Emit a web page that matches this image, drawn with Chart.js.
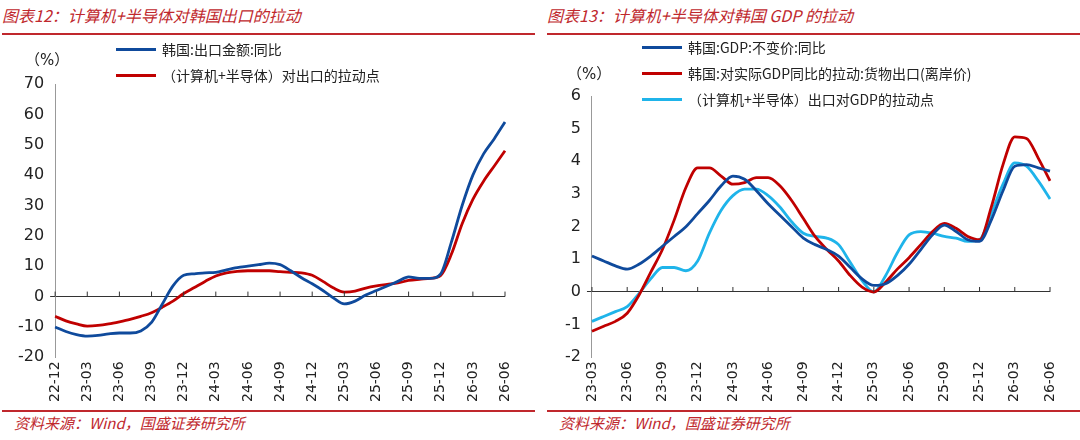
<!DOCTYPE html>
<html><head><meta charset="utf-8">
<script src="https://cdn.jsdelivr.net/npm/chart.js@4"></script>
<style>
body{margin:0;width:1080px;height:440px;background:#fff;font-family:"DejaVu Sans","Noto Sans CJK SC",sans-serif;position:relative;overflow:hidden}
.panel{position:absolute;top:0;width:535px;height:440px}
.title{position:absolute;left:2px;top:3px;color:#c0282d;font-style:italic;font-size:16px;font-family:"Noto Sans CJK SC",sans-serif}
.rule{position:absolute;left:2px;right:0;height:2px;background:#c0282d}
.src{position:absolute;left:14px;top:412px;color:#c0282d;font-style:italic;font-size:15px;font-family:"Noto Sans CJK SC",sans-serif}
.cw{position:absolute;left:0;top:36px;width:535px;height:374px}
.leg{position:absolute;font-size:14px;font-family:"Noto Sans CJK SC",sans-serif;color:#222}
.leg div{display:flex;align-items:center;height:26px}
.leg span{display:inline-block;width:40px;height:3px;margin-right:6px}
.unit{position:absolute;font-size:15px;color:#222}
</style></head><body>
<div class="panel" style="left:0">
  <div class="title">图表12：计算机+半导体对韩国出口的拉动</div>
  <div class="rule" style="top:33px"></div>
  <div class="cw"><canvas id="c1"></canvas></div>
  <div class="unit" style="left:25px;top:48px">（%）</div>
  <div class="leg" style="left:116px;top:36px">
    <div><span style="background:#0f4a9c"></span>韩国:出口金额:同比</div>
    <div><span style="background:#c00000"></span>（计算机+半导体）对出口的拉动点</div>
  </div>
  <div class="rule" style="top:410px"></div>
  <div class="src">资料来源：Wind，国盛证券研究所</div>
</div>
<div class="panel" style="left:545px">
  <div class="title">图表13：计算机+半导体对韩国 GDP 的拉动</div>
  <div class="rule" style="top:33px"></div>
  <div class="cw"><canvas id="c2"></canvas></div>
  <div class="unit" style="left:22px;top:62px">（%）</div>
  <div class="leg" style="left:97px;top:34px">
    <div><span style="background:#0f4a9c"></span>韩国:GDP:不变价:同比</div>
    <div><span style="background:#c00000"></span>韩国:对实际GDP同比的拉动:货物出口(离岸价)</div>
    <div><span style="background:#1fb4ea"></span>（计算机+半导体）出口对GDP的拉动点</div>
  </div>
  <div class="rule" style="top:410px"></div>
  <div class="src">资料来源：Wind，国盛证券研究所</div>
</div>
<script>
// ---- chart 12: monthly 22-12 .. 26-06
const months1 = ['22-12','23-01','23-02','23-03','23-04','23-05','23-06','23-07','23-08','23-09','23-10','23-11','23-12',
  '24-01','24-02','24-03','24-04','24-05','24-06','24-07','24-08','24-09','24-10','24-11','24-12',
  '25-01','25-02','25-03','25-04','25-05','25-06','25-07','25-08','25-09','25-10','25-11','25-12',
  '26-01','26-02','26-03','26-04','26-05','26-06'];
const exportYoy = [-10,-11.5,-12.5,-13,-12.8,-12.3,-12,-12,-11.3,-8.5,-2.5,3.5,7,
  7.5,7.8,8,8.8,9.5,10,10.5,11,10.5,8.5,6.2,4.2,
  2,-0.5,-2.4,-1.5,0.5,2,3.5,5,6.5,6,6,7.5,
  18,30,40,47,52,57.5];
const chipPull = [-6.5,-8,-9,-9.7,-9.5,-9,-8.3,-7.5,-6.5,-5.3,-3.5,-1.5,1,
  3,5,6.8,7.8,8.3,8.5,8.5,8.5,8.2,8,7.8,7,
  5,2.8,1.5,1.8,2.8,3.5,4,4.5,5.3,5.7,6,7,
  14,24,32,38,43,48];

// ---- chart 13: monthly 23-03 .. 26-06
const months2 = ['23-03','23-04','23-05','23-06','23-07','23-08','23-09','23-10','23-11','23-12',
  '24-01','24-02','24-03','24-04','24-05','24-06','24-07','24-08','24-09','24-10','24-11','24-12',
  '25-01','25-02','25-03','25-04','25-05','25-06','25-07','25-08','25-09','25-10','25-11','25-12',
  '26-01','26-02','26-03','26-04','26-05','26-06'];
const gdpYoy = [1.1,0.95,0.8,0.7,0.85,1.1,1.4,1.7,2.0,2.4,
  2.8,3.25,3.55,3.45,3.1,2.7,2.35,2.0,1.65,1.45,1.3,1.1,
  0.75,0.4,0.2,0.25,0.5,0.85,1.3,1.75,2.05,1.85,1.6,1.55,
  2.2,3.1,3.85,3.9,3.8,3.7];
const goodsPull = [-1.2,-1.05,-0.9,-0.65,-0.1,0.6,1.3,2.2,3.2,3.8,
  3.8,3.55,3.3,3.35,3.5,3.5,3.25,2.8,2.25,1.7,1.3,0.95,
  0.5,0.15,0,0.3,0.7,1.05,1.45,1.85,2.1,1.95,1.7,1.6,
  2.6,3.9,4.75,4.7,4.1,3.4];
const chipGdpPull = [-0.9,-0.75,-0.6,-0.45,-0.05,0.4,0.75,0.75,0.65,0.95,
  1.8,2.5,2.95,3.15,3.15,2.95,2.6,2.15,1.8,1.7,1.65,1.45,
  0.9,0.35,0,0.5,1.2,1.75,1.85,1.8,1.7,1.65,1.55,1.6,
  2.4,3.3,3.95,3.85,3.4,2.85];

Chart.defaults.font.family = '"DejaVu Sans", sans-serif';
Chart.defaults.color = '#222';

function line(data, color) {
  return { data, borderColor: color, borderWidth: 2.8, pointRadius: 0, tension: 0.4, cubicInterpolationMode: 'monotone', fill: false };
}

// small upward tick marks on the zero line every 3 months
const zeroTicks = {
  id: 'zeroTicks',
  afterDatasetsDraw(chart) {
    const { ctx, scales: { x, y } } = chart;
    const y0 = y.getPixelForValue(0);
    ctx.save();
    ctx.strokeStyle = '#333';
    ctx.lineWidth = 1;
    ctx.beginPath();
    for (let i = 0; i < chart.data.labels.length; i += 3) {
      const px = x.getPixelForValue(i);
      ctx.moveTo(px, y0);
      ctx.lineTo(px, y0 - 5);
    }
    ctx.stroke();
    ctx.restore();
  }
};

function makeChart(id, labels, sets, ymin, ymax, step, pad) {
  new Chart(document.getElementById(id), {
    type: 'line',
    data: { labels, datasets: sets },
    plugins: [zeroTicks],
    options: {
      responsive: true, maintainAspectRatio: false, animation: false,
      layout: { padding: pad },
      plugins: { legend: { display: false }, tooltip: { enabled: false } },
      scales: {
        x: {
          grid: { drawOnChartArea: false, drawTicks: false },
          border: { display: false },
          ticks: {
            autoSkip: false, maxRotation: 90, minRotation: 90, font: { size: 14 }, padding: 4,
            callback: (v, i) => i % 3 === 0 ? labels[i] : ''
          }
        },
        y: {
          min: ymin, max: ymax,
          grid: {
            drawTicks: true, tickLength: 5,
            color: ctx => ctx.tick && ctx.tick.value === 0 ? '#333' : 'rgba(0,0,0,0)',
            lineWidth: 1
          },
          border: { color: '#999' },
          ticks: { stepSize: step, font: { size: 16 }, padding: 6 }
        }
      }
    }
  });
}

makeChart('c1', months1, [line(exportYoy, '#0f4a9c'), line(chipPull, '#c00000')], -20, 70, 10,
  { top: 48, right: 30, left: 12, bottom: 4 });
makeChart('c2', months2, [line(gdpYoy, '#0f4a9c'), line(goodsPull, '#c00000'), line(chipGdpPull, '#1fb4ea')], -2, 6, 1,
  { top: 60, right: 30, left: 14, bottom: 4 });
</script>
</body></html>
